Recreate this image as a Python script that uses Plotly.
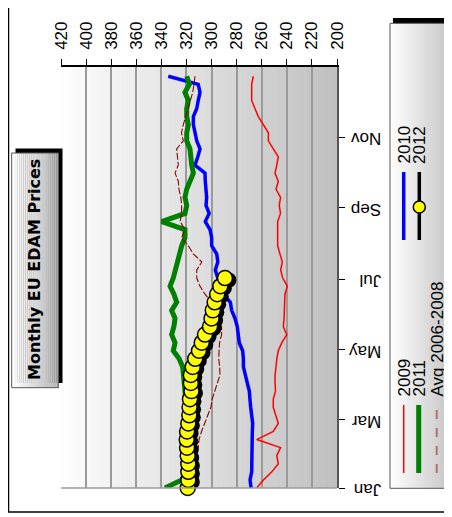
import plotly.graph_objects as go

# ---------------- data ----------------
weeks = list(range(1, 53))
weeks_2012 = list(range(1, 28))

price_2009 = [264, 258.7, 252, 246.8, 248, 245, 264, 250.8, 246.8, 248.6,
              250.8, 250.8, 249, 249.4, 249.4, 248.6, 248, 246.8, 244, 240,
              242.8, 242.2, 242, 241.8, 241.5, 239.6, 243.3, 244.9, 243.6, 245.5,
              247.3, 247.3, 247.3, 247.3, 245, 246, 245, 248.6, 246.8, 249.4,
              248, 246.8, 250.8, 254.7, 254.7, 258.7, 262.7, 265.4, 268, 268,
              268, 266.7]
price_2010 = [268.5, 269.3, 268, 268, 268, 268, 268, 267.5, 267.2, 268.3,
              268.8, 269.4, 269.9, 271.5, 273.3, 274.6, 274.6, 275.2, 277.9, 278.7,
              279.5, 281.3, 284, 285, 290.6, 293, 295, 297, 295, 295.9,
              299.9, 299.9, 301.2, 305, 301.9, 304.4, 303.9, 304.6, 305, 305.2,
              313.2, 311, 309.2, 311.8, 313.2, 314.5, 314.5, 311.8, 310.6, 309.2,
              310.6, 334.5]
price_2011 = [337.1, 323.8, 318, 315, 314, 313.5, 314, 316, 318, 319,
              320, 320.5, 321, 321.2, 322.5, 323, 325.8, 330.5, 329.1, 331.8,
              330, 329.1, 331.8, 327.8, 330, 333.1, 330.5, 329, 327.8, 326,
              323.8, 321.2, 321.2, 339.7, 321.2, 319.8, 321.2, 319.8, 317, 314.5,
              315.8, 316.5, 317.2, 319.8, 319.8, 318.5, 319.8, 319.8, 318.5, 321.2,
              317.7, 319.8]
price_avg = [313, 313, 312.5, 312, 311.5, 311, 310, 308, 305.5, 303,
             300.5, 299.5, 297.5, 295.5, 293.3, 293.5, 294.3, 294, 293.6, 292,
             292, 294.5, 297, 300, 305.2, 309.2, 311.8, 311.8, 307.8, 314.5,
             318.5, 323.8, 321.2, 325, 324, 323.8, 324.5, 326, 326.5, 329.1,
             326.5, 327, 327.8, 322.5, 324, 322.5, 320.5, 318.5, 316.5, 315,
             314, 313.2]
price_2012 = [319, 318.5, 318.5, 318.5, 319, 319.5, 319.8, 319.5, 318.5, 317.7,
              317.5, 317.2, 316, 316.5, 316.5, 315, 313, 310, 307.8, 305.2,
              301.2, 300, 299, 297.5, 295.5, 293, 289.3]

price_ticks = [420, 400, 380, 360, 340, 320, 300, 280, 260, 240, 220, 200]
month_labels = ["Jan", "Mar", "May", "Jul", "Sep", "Nov"]
month_days = [0, 59, 120, 181, 243, 304]

days = [(w - 1) * 7 for w in weeks]
days_2012 = [(w - 1) * 7 for w in weeks_2012]

# ---------------- geometry helpers (screen pixels -> paper) ----------------
OFF = 8                      # default page body margin
W, H = 452 - OFF, 517 - OFF  # figure size
L, R, T, B = 61, 337, 67, 488  # plot area in screen pixels
PW, PH = R - L, B - T
XR = [420, 200]
YR = [0, 365]


def PX(x):
    return (x - L) / PW


def PY(y):
    return (B - y) / PH


FONT = "Liberation Sans"

fig = go.Figure()
fig.add_trace(go.Scatter(x=price_2009, y=days, mode="lines", name="2009",
                         line=dict(color="#ff0000", width=1.5)))
fig.add_trace(go.Scatter(x=price_2010, y=days, mode="lines", name="2010",
                         line=dict(color="#0000ff", width=3.5)))
fig.add_trace(go.Scatter(x=price_2011, y=days, mode="lines", name="2011",
                         line=dict(color="#008000", width=5)))
fig.add_trace(go.Scatter(x=price_avg, y=days, mode="lines", name="Avg 2006-2008",
                         line=dict(color="#8b0000", width=1.1, dash="7px,2px")))
# drop shadow of the 2012 series (same data on slightly shifted axes)
fig.add_trace(go.Scatter(x=price_2012, y=days_2012, mode="lines+markers",
                         xaxis="x2", yaxis="y2", hoverinfo="skip",
                         line=dict(color="black", width=5),
                         marker=dict(size=15, color="black"),
                         cliponaxis=False))
fig.add_trace(go.Scatter(x=price_2012, y=days_2012, mode="lines+markers", name="2012",
                         xaxis="x3", yaxis="y3",
                         line=dict(color="black", width=3),
                         marker=dict(size=15, color="#ffff00",
                                     line=dict(color="black", width=1.5)),
                         cliponaxis=False))

shapes = []


def gradient(x0, x1, y0, y1, c0, c1, n, layer="above"):
    for i in range(n):
        a = x0 + (x1 - x0) * i / n
        b = x0 + (x1 - x0) * (i + 1) / n + 0.3
        t = i / max(n - 1, 1)
        c = int(round(c0 + (c1 - c0) * t))
        shapes.append(dict(type="rect", xref="paper", yref="paper",
                           x0=PX(a), x1=PX(b), y0=PY(y1), y1=PY(y0),
                           fillcolor=f"rgb({c},{c},{c})", line=dict(width=0),
                           layer=layer))


# outer frame
shapes.append(dict(type="rect", xref="paper", yref="paper",
                   x0=PX(8.5), x1=PX(480), y0=PY(512), y1=PY(-20),
                   line=dict(color="black", width=1.5), fillcolor="white", layer="below"))

# plot background gradient
gradient(L, R, T, B, 253, 192, 46, layer="below")

# bottom plot edge
shapes.append(dict(type="line", xref="paper", yref="paper",
                   x0=0, x1=1, y0=0, y1=0, line=dict(color="#9a9a9a", width=1.5)))

# title box (shadow + gradient box)
shapes.append(dict(type="rect", xref="paper", yref="paper",
                   x0=PX(15.5), x1=PX(62.5), y0=PY(383), y1=PY(148.5),
                   fillcolor="black", line=dict(width=0)))
gradient(11.7, 58.3, 153, 387.7, 255, 180, 24)
shapes.append(dict(type="rect", xref="paper", yref="paper",
                   x0=PX(11.7), x1=PX(58.3), y0=PY(387.7), y1=PY(153),
                   line=dict(color="#555555", width=1), fillcolor="rgba(0,0,0,0)"))

# legend box (shadow + gradient box)
shapes.append(dict(type="rect", xref="paper", yref="paper",
                   x0=PX(393), x1=PX(480), y0=PY(483), y1=PY(18),
                   fillcolor="black", line=dict(width=0)))
gradient(390, 470, 23.3, 488.3, 255, 178, 40)
shapes.append(dict(type="rect", xref="paper", yref="paper",
                   x0=PX(390), x1=PX(480), y0=PY(488.3), y1=PY(23.3),
                   line=dict(color="#555555", width=1), fillcolor="rgba(0,0,0,0)"))


def leg_line(x, y0, y1, color, width, dash="solid"):
    shapes.append(dict(type="line", xref="paper", yref="paper",
                       x0=PX(x), x1=PX(x), y0=PY(y1), y1=PY(y0),
                       line=dict(color=color, width=width, dash=dash)))


leg_line(403.7, 405, 473, "#ff0000", 1.5)
leg_line(418.7, 405, 473, "#008000", 5)
leg_line(436.7, 405, 473, "#b07070", 2, "dash")
leg_line(403.7, 172, 240, "#0000ff", 3.5)
leg_line(419.3, 172, 240, "black", 3.5)
shapes.append(dict(type="circle", xref="paper", yref="paper",
                   x0=PX(413.3), x1=PX(425.3), y0=PY(213), y1=PY(201),
                   fillcolor="#ffff00", line=dict(color="black", width=1.5)))

annotations = [
    dict(text="<b>Monthly EU EDAM Prices</b>", textangle=-90, xref="paper", yref="paper",
         x=PX(34), y=PY(270), showarrow=False, xanchor="center", yanchor="middle",
         font=dict(family="DejaVu Sans", size=16, color="black")),
]


def leg_text(txt, x, ybottom):
    annotations.append(dict(text=txt, textangle=-90, xref="paper", yref="paper",
                            x=PX(x), y=PY(ybottom), showarrow=False,
                            xanchor="center", yanchor="bottom",
                            font=dict(family=FONT, size=17, color="black")))


leg_text("2009", 403.5, 399)
leg_text("2011", 419, 399)
leg_text("Avg 2006-2008", 437, 399)
leg_text("2010", 403.5, 166)
leg_text("2012", 419, 166)

# shadow axes: shifted 4 px right and 2 px down
SX, SY = 4, 2
x2_range = [XR[0], XR[0] - (PW - SX) * (XR[0] - XR[1]) / PW]
y2_range = [SY * (YR[1] - YR[0]) / PH, YR[1]]

fig.update_layout(
    width=W, height=H,
    margin=dict(l=L - OFF, r=W - (R - OFF), t=T - OFF, b=H - (B - OFF), pad=0),
    paper_bgcolor="white",
    plot_bgcolor="rgba(0,0,0,0)",
    showlegend=False,
    shapes=shapes,
    annotations=annotations,
    xaxis=dict(range=XR, side="top", tickvals=price_ticks,
               ticktext=[str(v) for v in price_ticks], tickangle=-90,
               ticks="outside", ticklen=6, tickcolor="black", tickwidth=1,
               showline=True, linecolor="black", linewidth=1.5,
               showgrid=True, gridcolor="#9a9a9a", gridwidth=1.5, zeroline=False,
               ticklabelstandoff=6,
               tickfont=dict(family=FONT, size=17, color="black")),
    yaxis=dict(range=YR, side="right", tickvals=month_days, ticktext=month_labels,
               tickangle=180, ticks="outside", ticklen=6, tickcolor="black",
               showline=True, linecolor="#555555", linewidth=1.5,
               showgrid=False, zeroline=False, ticklabelstandoff=33,
               ticklabelshift=7,
               tickfont=dict(family=FONT, size=17, color="black")),
    xaxis2=dict(domain=[SX / PW, 1], range=x2_range, anchor="y2", visible=False),
    yaxis2=dict(domain=[0, 1 - SY / PH], range=y2_range, anchor="x2", visible=False),
    xaxis3=dict(domain=[0, 1], range=XR, anchor="y3", visible=False),
    yaxis3=dict(domain=[0, 1], range=YR, anchor="x3", visible=False),
)

fig.write_html("out.html")
